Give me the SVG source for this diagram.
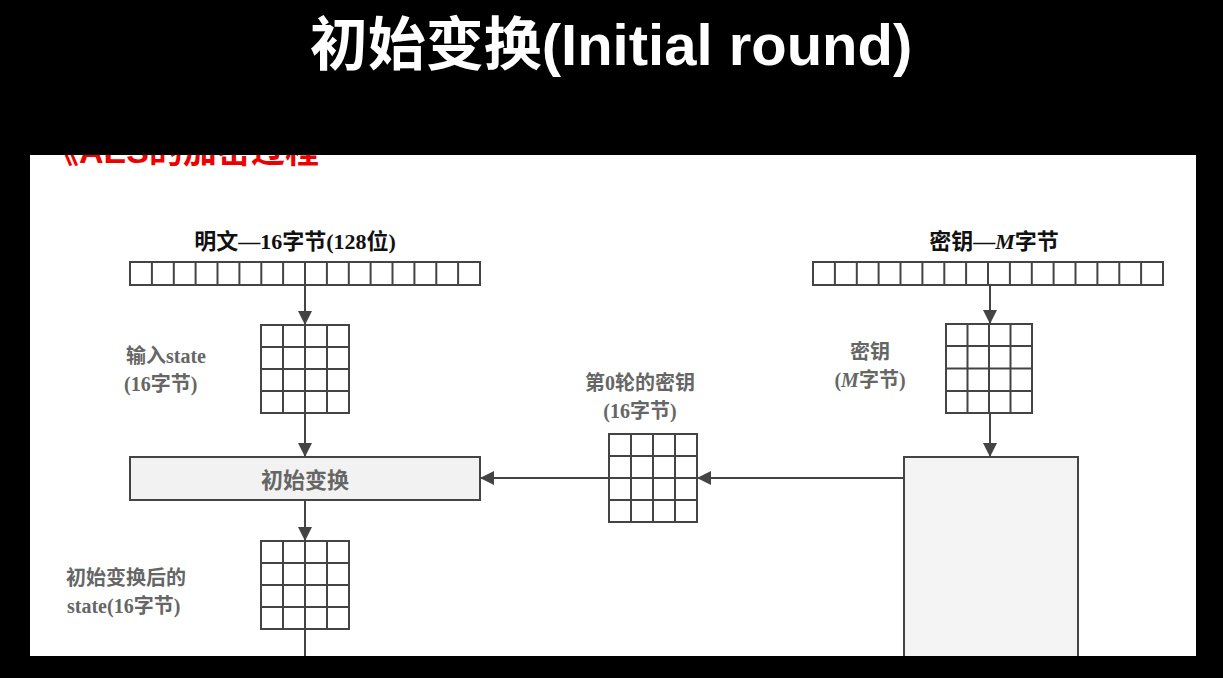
<svg xmlns="http://www.w3.org/2000/svg" width="1223" height="678" viewBox="0 0 1223 678">
<defs>
<style>
.ln{stroke:#444;stroke-width:2;fill:none}
.g{stroke:#444;stroke-width:2;fill:#fff}
.t{font-family:"Liberation Serif","Noto Sans CJK SC",serif;fill:#666;font-weight:bold}
.b{fill:#111}
</style>
<marker id="ar" viewBox="0 0 10 10" refX="10" refY="5" markerWidth="7" markerHeight="7" orient="auto"><path d="M0,0L10,5L0,10z" fill="#444"/></marker>
<clipPath id="pc"><rect x="30" y="155" width="1166" height="501"/></clipPath>
</defs>
<rect width="1223" height="678" fill="#000"/>
<text x="611" y="65" text-anchor="middle" font-family="'Liberation Sans','Noto Sans CJK SC',sans-serif" font-size="58" font-weight="bold" fill="#fff">初始变换(Initial round)</text>
<rect x="30" y="155" width="1166" height="501" fill="#fff"/>
<text clip-path="url(#pc)" x="45" y="163" font-family="'Liberation Sans','Noto Sans CJK SC',sans-serif" font-size="34" font-weight="bold" fill="#e00">《AES的加密过程</text>
<g id="connectors">
<line class="ln" x1="305" y1="285" x2="305" y2="325" marker-end="url(#ar)"/>
<line class="ln" x1="305" y1="413" x2="305" y2="457" marker-end="url(#ar)"/>
<line class="ln" x1="305" y1="500" x2="305" y2="541" marker-end="url(#ar)"/>
<line class="ln" x1="305" y1="629" x2="305" y2="656"/>
<line class="ln" x1="990" y1="285" x2="990" y2="324" marker-end="url(#ar)"/>
<line class="ln" x1="990" y1="413" x2="990" y2="457" marker-end="url(#ar)"/>
<line class="ln" x1="904" y1="478" x2="697" y2="478" marker-end="url(#ar)"/>
<line class="ln" x1="609" y1="478" x2="480" y2="478" marker-end="url(#ar)"/>
</g>
<g id="plaintext">
<rect class="g" x="130" y="262" width="350" height="23"/>
<path class="ln" d="M151.9,262v23M173.8,262v23M195.6,262v23M217.5,262v23M239.4,262v23M261.3,262v23M283.1,262v23M305,262v23M326.9,262v23M348.8,262v23M370.6,262v23M392.5,262v23M414.4,262v23M436.3,262v23M458.1,262v23"/>
<text class="t b" x="295" y="249" text-anchor="middle" font-size="22">明文—16字节(128位)</text>
</g>
<g id="input-state">
<rect class="g" x="261" y="325" width="88" height="88"/>
<path class="ln" d="M283,325v88M305,325v88M327,325v88M261,347h88M261,369h88M261,391h88"/>
<text class="t" x="126" y="363" font-size="20">输入state</text>
<text class="t" x="124" y="391" font-size="20">(16字节)</text>
</g>
<g id="initial-transform">
<rect x="130" y="457" width="350" height="43" fill="#f2f2f2" stroke="#444" stroke-width="2"/>
<text class="t" x="305" y="488" text-anchor="middle" font-size="22">初始变换</text>
</g>
<g id="state-after">
<rect class="g" x="261" y="541" width="88" height="88"/>
<path class="ln" d="M283,541v88M305,541v88M327,541v88M261,563h88M261,585h88M261,607h88"/>
<text class="t" x="66" y="585" font-size="20">初始变换后的</text>
<text class="t" x="67" y="613" font-size="20">state(16字节)</text>
</g>
<g id="key-bar">
<rect class="g" x="813" y="262" width="350" height="23"/>
<path class="ln" d="M834.9,262v23M856.8,262v23M878.6,262v23M900.5,262v23M922.4,262v23M944.3,262v23M966.1,262v23M988,262v23M1009.9,262v23M1031.8,262v23M1053.6,262v23M1075.5,262v23M1097.4,262v23M1119.3,262v23M1141.1,262v23"/>
<text class="t b" x="994" y="249" text-anchor="middle" font-size="22">密钥—<tspan font-style="italic">M</tspan>字节</text>
</g>
<g id="key-matrix">
<rect class="g" x="946" y="324" width="86" height="89"/>
<path class="ln" d="M967.5,324v89M989,324v89M1010.5,324v89M946,346h86M946,368.5h86M946,391h86"/>
<text class="t" x="870" y="359" text-anchor="middle" font-size="20">密钥</text>
<text class="t" x="870" y="387" text-anchor="middle" font-size="20">(<tspan font-style="italic">M</tspan>字节)</text>
</g>
<g id="key-expansion">
<rect x="904" y="457" width="174" height="210" fill="#f4f4f4" stroke="#444" stroke-width="2" clip-path="url(#pc)"/>
</g>
<g id="round0-key">
<rect class="g" x="609" y="434" width="88" height="88"/>
<path class="ln" d="M631,434v88M653,434v88M675,434v88M609,456h88M609,478h88M609,500h88"/>
<text class="t" x="640" y="390" text-anchor="middle" font-size="20">第0轮的密钥</text>
<text class="t" x="640" y="418" text-anchor="middle" font-size="20">(16字节)</text>
</g>
</svg>
